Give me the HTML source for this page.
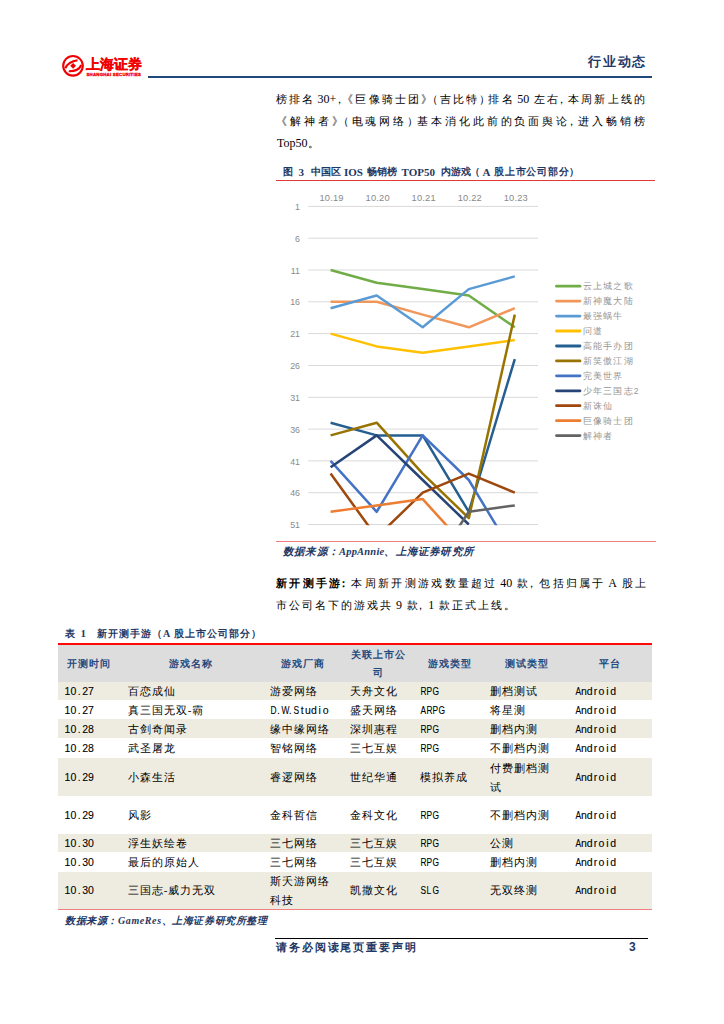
<!DOCTYPE html>
<html><head><meta charset="utf-8">
<style>
*{margin:0;padding:0;box-sizing:border-box}
html,body{width:724px;height:1024px;background:#fff;overflow:hidden}
body{position:relative;font-family:"Liberation Serif",serif;color:#000}
.a{position:absolute;white-space:nowrap}
.j{position:absolute;white-space:nowrap;text-align:justify;text-align-last:justify}
.nv{color:#1F3864}
.bd{font-weight:bold}
.p{font-size:11px;line-height:14px}
.L{font-size:12px}
.h{}
.pc{margin-right:-4px}
.pk{margin-left:-4.5px;margin-right:-1px}
.pk2{margin-left:-4.5px;margin-right:0px}
.Ls{margin:0 2.5px}
.po{margin-left:-4px}
.mono{font-family:"Liberation Mono",monospace}
.cell{position:absolute;font-size:11px;line-height:14px;white-space:nowrap}
.cell.mono{font-family:"Liberation Sans",sans-serif;font-size:10.5px;-webkit-text-stroke:0.1px #000}
.cell.mono i{font-style:normal;display:inline-block;width:5.9px;text-align:center}
.cell.mono i.u{transform:scaleX(0.8)}
.cell.zh{letter-spacing:1px}
.cell.hd{text-align:center;font-weight:bold;color:#1F4A7E;font-size:10px;letter-spacing:1px}
</style></head><body>

<!-- header -->
<svg class="a" style="left:0;top:0" width="150" height="90">
 <circle cx="73" cy="65.8" r="9.8" fill="none" stroke="#F00000" stroke-width="2.1"/>
 <path d="M65.3 68.3 Q68.5 61.5 77.5 60.3" fill="none" stroke="#F00000" stroke-width="2.1"/>
 <path d="M68.8 71.3 Q78.5 71.5 81.3 65" fill="none" stroke="#F00000" stroke-width="2.1"/>
 <path d="M73.1 62.9 L76 65.8 L73.1 68.7 L70.2 65.8 Z" fill="#F00000"/>
</svg>
<div class="a bd" style="left:86px;top:56.5px;font-size:13.5px;line-height:15px;color:#F00000;letter-spacing:0.1px;-webkit-text-stroke:0.3px #F00000">上海证券</div>
<div class="a" style="left:86.5px;top:71.5px;font-family:'Liberation Sans',sans-serif;font-size:4.3px;line-height:5px;color:#F00000;font-weight:bold;letter-spacing:0.25px;-webkit-text-stroke:0.3px #F00000">SHANGHAI SECURITIES</div>
<div class="a bd nv" style="left:588px;top:53.5px;font-size:13px;line-height:16px;letter-spacing:1.8px">行业动态</div>
<div class="a" style="left:148px;top:75.6px;width:504px;height:2px;background:#1F497D"></div>

<!-- paragraph -->
<div class="j p" style="left:276px;top:92px;width:369px">榜排名<span class="L" style="margin-left:2px">30+</span><span class="pk">，</span><span class="po">《</span>巨像骑士团<span class="pc">》</span><span class="po">（</span>吉比特<span class="pc">）</span>排名<span class="L Ls">50</span>左右<span class="pk">，</span>本周新上线的</div>
<div class="j p" style="left:276px;top:114px;width:369px"><span>《</span>解神者<span class="pc">》</span><span class="po">（</span>电魂网络<span class="pc">）</span>基本消化此前的负面舆论<span class="pk">，</span>进入畅销榜</div>
<div class="a p" style="left:277px;top:136px"><span class="L">Top50</span>。</div>

<!-- figure caption -->
<div class="a bd nv" style="left:283.3px;top:166px;font-size:10px;line-height:12px;">图</div><div class="a bd nv" style="left:298.6px;top:166px;font-size:10px;line-height:12px;font-size:11px;top:165.5px">3</div><div class="a bd nv" style="left:311.0px;top:166px;font-size:10px;line-height:12px;">中国区</div><div class="a bd nv" style="left:344.0px;top:166px;font-size:10px;line-height:12px;font-size:11px;top:165.5px">IOS</div><div class="a bd nv" style="left:367.3px;top:166px;font-size:10px;line-height:12px;">畅销榜</div><div class="a bd nv" style="left:401.5px;top:166px;font-size:10px;line-height:12px;font-size:11px;top:165.5px">TOP50</div><div class="a bd nv" style="left:440.8px;top:166px;font-size:10px;line-height:12px;">内游戏</div><div class="a bd nv" style="left:469.5px;top:166px;font-size:10px;line-height:12px;letter-spacing:-3px">（</div><div class="a bd nv" style="left:482.5px;top:166px;font-size:10px;line-height:12px;font-size:11px;top:165.5px">A</div><div class="a bd nv" style="left:493.8px;top:166px;font-size:10px;line-height:12px;letter-spacing:0.9px">股上市公司部分</div><div class="a bd nv" style="left:569px;top:166px;font-size:10px;line-height:12px;">）</div>
<div class="a" style="left:276px;top:179.5px;width:379px;height:1.5px;background:#E53935"></div>

<!-- chart -->
<svg class="a" style="left:0;top:0" width="724" height="1024">
<defs><clipPath id="pc"><rect x="300" y="200" width="245" height="325.3"/></clipPath></defs>
<line x1="308.2" x2="538" y1="206.4" y2="206.4" stroke="#D9D9D9" stroke-width="1"/>
<text x="300" y="210.0" text-anchor="end" font-size="8.8" fill="#8A8A8A" font-family="Liberation Sans">1</text>
<line x1="308.2" x2="538" y1="238.2" y2="238.2" stroke="#D9D9D9" stroke-width="1"/>
<text x="300" y="241.8" text-anchor="end" font-size="8.8" fill="#8A8A8A" font-family="Liberation Sans">6</text>
<line x1="308.2" x2="538" y1="270.0" y2="270.0" stroke="#D9D9D9" stroke-width="1"/>
<text x="300" y="273.6" text-anchor="end" font-size="8.8" fill="#8A8A8A" font-family="Liberation Sans">11</text>
<line x1="308.2" x2="538" y1="301.8" y2="301.8" stroke="#D9D9D9" stroke-width="1"/>
<text x="300" y="305.4" text-anchor="end" font-size="8.8" fill="#8A8A8A" font-family="Liberation Sans">16</text>
<line x1="308.2" x2="538" y1="333.6" y2="333.6" stroke="#D9D9D9" stroke-width="1"/>
<text x="300" y="337.2" text-anchor="end" font-size="8.8" fill="#8A8A8A" font-family="Liberation Sans">21</text>
<line x1="308.2" x2="538" y1="365.5" y2="365.5" stroke="#D9D9D9" stroke-width="1"/>
<text x="300" y="369.1" text-anchor="end" font-size="8.8" fill="#8A8A8A" font-family="Liberation Sans">26</text>
<line x1="308.2" x2="538" y1="397.3" y2="397.3" stroke="#D9D9D9" stroke-width="1"/>
<text x="300" y="400.9" text-anchor="end" font-size="8.8" fill="#8A8A8A" font-family="Liberation Sans">31</text>
<line x1="308.2" x2="538" y1="429.1" y2="429.1" stroke="#D9D9D9" stroke-width="1"/>
<text x="300" y="432.7" text-anchor="end" font-size="8.8" fill="#8A8A8A" font-family="Liberation Sans">36</text>
<line x1="308.2" x2="538" y1="460.9" y2="460.9" stroke="#D9D9D9" stroke-width="1"/>
<text x="300" y="464.5" text-anchor="end" font-size="8.8" fill="#8A8A8A" font-family="Liberation Sans">41</text>
<line x1="308.2" x2="538" y1="492.7" y2="492.7" stroke="#D9D9D9" stroke-width="1"/>
<text x="300" y="496.3" text-anchor="end" font-size="8.8" fill="#8A8A8A" font-family="Liberation Sans">46</text>
<line x1="308.2" x2="538" y1="524.5" y2="524.5" stroke="#D9D9D9" stroke-width="1"/>
<text x="300" y="528.1" text-anchor="end" font-size="8.8" fill="#8A8A8A" font-family="Liberation Sans">51</text>
<text x="331.6" y="200.8" text-anchor="middle" font-size="9.3" letter-spacing="0.2" fill="#8A8A8A" font-family="Liberation Sans">10.19</text>
<text x="377.7" y="200.8" text-anchor="middle" font-size="9.3" letter-spacing="0.2" fill="#8A8A8A" font-family="Liberation Sans">10.20</text>
<text x="423.7" y="200.8" text-anchor="middle" font-size="9.3" letter-spacing="0.2" fill="#8A8A8A" font-family="Liberation Sans">10.21</text>
<text x="469.8" y="200.8" text-anchor="middle" font-size="9.3" letter-spacing="0.2" fill="#8A8A8A" font-family="Liberation Sans">10.22</text>
<text x="515.8" y="200.8" text-anchor="middle" font-size="9.3" letter-spacing="0.2" fill="#8A8A8A" font-family="Liberation Sans">10.23</text>
<g clip-path="url(#pc)" fill="none" stroke-width="2.5" stroke-linejoin="round">
<polyline stroke="#70AD47" points="330.6,270.0 376.7,282.7 422.7,289.1 468.8,295.5 514.8,327.3"/>
<polyline stroke="#F1975A" points="330.6,301.8 376.7,301.8 422.7,314.6 468.8,327.3 514.8,308.2"/>
<polyline stroke="#5B9BD5" points="330.6,308.2 376.7,295.5 422.7,327.3 468.8,289.1 514.8,276.4"/>
<polyline stroke="#FFC000" points="330.6,333.6 376.7,346.4 422.7,352.7 468.8,346.4 514.8,340.0"/>
<polyline stroke="#255E91" points="330.6,422.7 376.7,435.4 422.7,435.4 468.8,511.8 514.8,359.1"/>
<polyline stroke="#997300" points="330.6,435.4 376.7,422.7 422.7,473.6 468.8,518.1 514.8,314.6"/>
<polyline stroke="#4472C4" points="330.6,460.9 376.7,511.8 422.7,435.4 468.8,480.0 514.8,556.3"/>
<polyline stroke="#264478" points="330.6,467.2 376.7,435.4 422.7,480.0 468.8,524.5"/>
<polyline stroke="#9E480E" points="330.6,473.6 376.7,537.2 422.7,492.7 468.8,473.6 514.8,492.7"/>
<polyline stroke="#ED7D31" points="330.6,511.8 376.7,505.4 422.7,499.1 468.8,549.9"/>
<polyline stroke="#636363" points="422.7,581.8 468.8,511.8 514.8,505.4"/>
</g>
<line x1="556.5" x2="580" y1="286.2" y2="286.2" stroke="#70AD47" stroke-width="2.8" stroke-linecap="round"/>
<text x="582.8" y="289.2" font-size="8.5" letter-spacing="1.2" fill="#959595" font-family="Liberation Sans">云上城之歌</text>
<line x1="556.5" x2="580" y1="301.1" y2="301.1" stroke="#F1975A" stroke-width="2.8" stroke-linecap="round"/>
<text x="582.8" y="304.1" font-size="8.5" letter-spacing="1.2" fill="#959595" font-family="Liberation Sans">新神魔大陆</text>
<line x1="556.5" x2="580" y1="316.1" y2="316.1" stroke="#5B9BD5" stroke-width="2.8" stroke-linecap="round"/>
<text x="582.8" y="319.1" font-size="8.5" letter-spacing="1.2" fill="#959595" font-family="Liberation Sans">最强蜗牛</text>
<line x1="556.5" x2="580" y1="331.0" y2="331.0" stroke="#FFC000" stroke-width="2.8" stroke-linecap="round"/>
<text x="582.8" y="334.0" font-size="8.5" letter-spacing="1.2" fill="#959595" font-family="Liberation Sans">问道</text>
<line x1="556.5" x2="580" y1="346.0" y2="346.0" stroke="#255E91" stroke-width="2.8" stroke-linecap="round"/>
<text x="582.8" y="349.0" font-size="8.5" letter-spacing="1.2" fill="#959595" font-family="Liberation Sans">高能手办团</text>
<line x1="556.5" x2="580" y1="360.9" y2="360.9" stroke="#997300" stroke-width="2.8" stroke-linecap="round"/>
<text x="582.8" y="363.9" font-size="8.5" letter-spacing="1.2" fill="#959595" font-family="Liberation Sans">新笑傲江湖</text>
<line x1="556.5" x2="580" y1="375.8" y2="375.8" stroke="#4472C4" stroke-width="2.8" stroke-linecap="round"/>
<text x="582.8" y="378.8" font-size="8.5" letter-spacing="1.2" fill="#959595" font-family="Liberation Sans">完美世界</text>
<line x1="556.5" x2="580" y1="390.8" y2="390.8" stroke="#264478" stroke-width="2.8" stroke-linecap="round"/>
<text x="582.8" y="393.8" font-size="8.5" letter-spacing="1.2" fill="#959595" font-family="Liberation Sans">少年三国志2</text>
<line x1="556.5" x2="580" y1="405.7" y2="405.7" stroke="#9E480E" stroke-width="2.8" stroke-linecap="round"/>
<text x="582.8" y="408.7" font-size="8.5" letter-spacing="1.2" fill="#959595" font-family="Liberation Sans">新诛仙</text>
<line x1="556.5" x2="580" y1="420.7" y2="420.7" stroke="#ED7D31" stroke-width="2.8" stroke-linecap="round"/>
<text x="582.8" y="423.7" font-size="8.5" letter-spacing="1.2" fill="#959595" font-family="Liberation Sans">巨像骑士团</text>
<line x1="556.5" x2="580" y1="435.6" y2="435.6" stroke="#636363" stroke-width="2.8" stroke-linecap="round"/>
<text x="582.8" y="438.6" font-size="8.5" letter-spacing="1.2" fill="#959595" font-family="Liberation Sans">解神者</text>
</svg>

<!-- source -->
<div class="a" style="left:276px;top:541px;width:380px;height:1px;background:#F08080"></div>
<div class="a bd nv" style="left:283px;top:545.5px;font-size:10.5px;line-height:12px;font-style:italic;letter-spacing:0.2px">数据来源：AppAnnie、上海证券研究所</div>

<!-- paragraph 2 -->
<div class="j p" style="left:276px;top:576px;width:370px"><b>新开测手游<span class="pk2">：</span></b>本周新开测游戏数量超过<span class="L Ls">40</span>款<span class="pk2">，</span>包括归属于<span class="L Ls">A</span>股上</div>
<div class="a p" style="left:276px;top:598px;letter-spacing:2.05px">市公司名下的游戏共<span class="L Ls">9</span>款<span class="pk2">，</span><span class="L" style="margin-right:2.5px">1</span>款正式上线。</div>

<!-- table caption -->
<div class="a bd nv" style="left:65px;top:627.5px;font-size:10px;line-height:12px">表</div><div class="a bd nv" style="left:80.5px;top:627px;font-size:11px;line-height:12px">1</div><div class="a bd nv" style="left:97px;top:627.5px;font-size:10px;line-height:12px;letter-spacing:1.0px">新开测手游（A 股上市公司部分）</div>


<!-- table -->
<div class="a" style="left:58px;top:644.0px;width:594px;height:37.8px;background:#DDDDDD"></div>
<div class="a" style="left:58px;top:681.8px;width:594px;height:18.4px;background:#EEECE1"></div>
<div class="a" style="left:58px;top:700.0px;width:594px;height:19.0px;background:#FFFFFF"></div>
<div class="a" style="left:58px;top:719.0px;width:594px;height:19.3px;background:#EEECE1"></div>
<div class="a" style="left:58px;top:738.3px;width:594px;height:19.7px;background:#FFFFFF"></div>
<div class="a" style="left:58px;top:758.0px;width:594px;height:37.9px;background:#EEECE1"></div>
<div class="a" style="left:58px;top:795.9px;width:594px;height:37.7px;background:#FFFFFF"></div>
<div class="a" style="left:58px;top:833.6px;width:594px;height:18.6px;background:#EEECE1"></div>
<div class="a" style="left:58px;top:852.2px;width:594px;height:19.7px;background:#FFFFFF"></div>
<div class="a" style="left:58px;top:871.9px;width:594px;height:36.9px;background:#EEECE1"></div>
<div class="cell mono" style="left:64.5px;top:684.0px"><i>1</i><i>0</i><i>.</i><i>2</i><i>7</i></div>
<div class="cell zh" style="left:127.7px;top:684.0px">百恋成仙</div>
<div class="cell zh" style="left:269.7px;top:684.0px">游爱网络</div>
<div class="cell zh" style="left:350.0px;top:684.0px">天舟文化</div>
<div class="cell mono" style="left:420.0px;top:684.0px"><i class="u">R</i><i class="u">P</i><i class="u">G</i></div>
<div class="cell zh" style="left:490.0px;top:684.0px">删档测试</div>
<div class="cell mono" style="left:575.0px;top:684.0px"><i class="u">A</i><i>n</i><i>d</i><i>r</i><i>o</i><i>i</i><i>d</i></div>
<div class="cell mono" style="left:64.5px;top:702.5px"><i>1</i><i>0</i><i>.</i><i>2</i><i>7</i></div>
<div class="cell zh" style="left:127.7px;top:702.5px">真三国无双-霸</div>
<div class="cell mono" style="left:269.7px;top:702.5px"><i class="u">D</i><i>.</i><i class="u">W</i><i>.</i><i class="u">S</i><i>t</i><i>u</i><i>d</i><i>i</i><i>o</i></div>
<div class="cell zh" style="left:350.0px;top:702.5px">盛天网络</div>
<div class="cell mono" style="left:420.0px;top:702.5px"><i class="u">A</i><i class="u">R</i><i class="u">P</i><i class="u">G</i></div>
<div class="cell zh" style="left:490.0px;top:702.5px">将星测</div>
<div class="cell mono" style="left:575.0px;top:702.5px"><i class="u">A</i><i>n</i><i>d</i><i>r</i><i>o</i><i>i</i><i>d</i></div>
<div class="cell mono" style="left:64.5px;top:721.6px"><i>1</i><i>0</i><i>.</i><i>2</i><i>8</i></div>
<div class="cell zh" style="left:127.7px;top:721.6px">古剑奇闻录</div>
<div class="cell zh" style="left:269.7px;top:721.6px">缘中缘网络</div>
<div class="cell zh" style="left:350.0px;top:721.6px">深圳惠程</div>
<div class="cell mono" style="left:420.0px;top:721.6px"><i class="u">R</i><i class="u">P</i><i class="u">G</i></div>
<div class="cell zh" style="left:490.0px;top:721.6px">删档内测</div>
<div class="cell mono" style="left:575.0px;top:721.6px"><i class="u">A</i><i>n</i><i>d</i><i>r</i><i>o</i><i>i</i><i>d</i></div>
<div class="cell mono" style="left:64.5px;top:741.1px"><i>1</i><i>0</i><i>.</i><i>2</i><i>8</i></div>
<div class="cell zh" style="left:127.7px;top:741.1px">武圣屠龙</div>
<div class="cell zh" style="left:269.7px;top:741.1px">智铭网络</div>
<div class="cell zh" style="left:350.0px;top:741.1px">三七互娱</div>
<div class="cell mono" style="left:420.0px;top:741.1px"><i class="u">R</i><i class="u">P</i><i class="u">G</i></div>
<div class="cell zh" style="left:490.0px;top:741.1px">不删档内测</div>
<div class="cell mono" style="left:575.0px;top:741.1px"><i class="u">A</i><i>n</i><i>d</i><i>r</i><i>o</i><i>i</i><i>d</i></div>
<div class="cell mono" style="left:64.5px;top:770.0px"><i>1</i><i>0</i><i>.</i><i>2</i><i>9</i></div>
<div class="cell zh" style="left:127.7px;top:770.0px">小森生活</div>
<div class="cell zh" style="left:269.7px;top:770.0px">睿逻网络</div>
<div class="cell zh" style="left:350.0px;top:770.0px">世纪华通</div>
<div class="cell zh" style="left:420.0px;top:770.0px">模拟养成</div>
<div class="cell zh" style="left:490.0px;top:760.5px">付费删档测</div>
<div class="cell zh" style="left:490.0px;top:779.5px">试</div>
<div class="cell mono" style="left:575.0px;top:770.0px"><i class="u">A</i><i>n</i><i>d</i><i>r</i><i>o</i><i>i</i><i>d</i></div>
<div class="cell mono" style="left:64.5px;top:807.8px"><i>1</i><i>0</i><i>.</i><i>2</i><i>9</i></div>
<div class="cell zh" style="left:127.7px;top:807.8px">风影</div>
<div class="cell zh" style="left:269.7px;top:807.8px">金科哲信</div>
<div class="cell zh" style="left:350.0px;top:807.8px">金科文化</div>
<div class="cell mono" style="left:420.0px;top:807.8px"><i class="u">R</i><i class="u">P</i><i class="u">G</i></div>
<div class="cell zh" style="left:490.0px;top:807.8px">不删档内测</div>
<div class="cell mono" style="left:575.0px;top:807.8px"><i class="u">A</i><i>n</i><i>d</i><i>r</i><i>o</i><i>i</i><i>d</i></div>
<div class="cell mono" style="left:64.5px;top:835.9px"><i>1</i><i>0</i><i>.</i><i>3</i><i>0</i></div>
<div class="cell zh" style="left:127.7px;top:835.9px">浮生妖绘卷</div>
<div class="cell zh" style="left:269.7px;top:835.9px">三七网络</div>
<div class="cell zh" style="left:350.0px;top:835.9px">三七互娱</div>
<div class="cell mono" style="left:420.0px;top:835.9px"><i class="u">R</i><i class="u">P</i><i class="u">G</i></div>
<div class="cell zh" style="left:490.0px;top:835.9px">公测</div>
<div class="cell mono" style="left:575.0px;top:835.9px"><i class="u">A</i><i>n</i><i>d</i><i>r</i><i>o</i><i>i</i><i>d</i></div>
<div class="cell mono" style="left:64.5px;top:855.0px"><i>1</i><i>0</i><i>.</i><i>3</i><i>0</i></div>
<div class="cell zh" style="left:127.7px;top:855.0px">最后的原始人</div>
<div class="cell zh" style="left:269.7px;top:855.0px">三七网络</div>
<div class="cell zh" style="left:350.0px;top:855.0px">三七互娱</div>
<div class="cell mono" style="left:420.0px;top:855.0px"><i class="u">R</i><i class="u">P</i><i class="u">G</i></div>
<div class="cell zh" style="left:490.0px;top:855.0px">删档内测</div>
<div class="cell mono" style="left:575.0px;top:855.0px"><i class="u">A</i><i>n</i><i>d</i><i>r</i><i>o</i><i>i</i><i>d</i></div>
<div class="cell mono" style="left:64.5px;top:883.3px"><i>1</i><i>0</i><i>.</i><i>3</i><i>0</i></div>
<div class="cell zh" style="left:127.7px;top:883.3px">三国志-威力无双</div>
<div class="cell zh" style="left:269.7px;top:873.8px">斯夭游网络</div>
<div class="cell zh" style="left:269.7px;top:892.8px">科技</div>
<div class="cell zh" style="left:350.0px;top:883.3px">凯撒文化</div>
<div class="cell mono" style="left:420.0px;top:883.3px"><i class="u">S</i><i class="u">L</i><i class="u">G</i></div>
<div class="cell zh" style="left:490.0px;top:883.3px">无双终测</div>
<div class="cell mono" style="left:575.0px;top:883.3px"><i class="u">A</i><i>n</i><i>d</i><i>r</i><i>o</i><i>i</i><i>d</i></div>
<div class="cell hd" style="left:58.0px;width:61.0px;top:657.1px">开测时间</div>
<div class="cell hd" style="left:119.0px;width:144.0px;top:657.1px">游戏名称</div>
<div class="cell hd" style="left:263.0px;width:80.0px;top:657.1px">游戏厂商</div>
<div class="cell hd" style="left:343.0px;width:71.0px;top:647.8px">关联上市公</div>
<div class="cell hd" style="left:343.0px;width:71.0px;top:666.4px">司</div>
<div class="cell hd" style="left:414.0px;width:71.0px;top:657.1px">游戏类型</div>
<div class="cell hd" style="left:485.0px;width:83.0px;top:657.1px">测试类型</div>
<div class="cell hd" style="left:568.0px;width:84.0px;top:657.1px">平台</div>
<div class="a" style="left:58px;top:642.5px;width:594px;height:2px;background:#FF0808"></div>
<div class="a" style="left:58px;top:908.5px;width:594px;height:1px;background:#F08080"></div>
<div class="a bd nv" style="left:65px;top:914.5px;font-size:10px;line-height:12px;font-style:italic;letter-spacing:0.6px">数据来源：GameRes、上海证券研究所整理</div>

<!-- footer -->
<div class="a" style="left:275px;top:938px;width:373px;height:1px;background:#000"></div>
<div class="a bd nv" style="left:276px;top:941px;font-size:11px;line-height:13px;letter-spacing:1.9px">请务必阅读尾页重要声明</div>
<div class="a bd nv" style="left:629px;top:940px;font-size:12px;line-height:14px;font-family:'Liberation Sans',sans-serif">3</div>

</body></html>
